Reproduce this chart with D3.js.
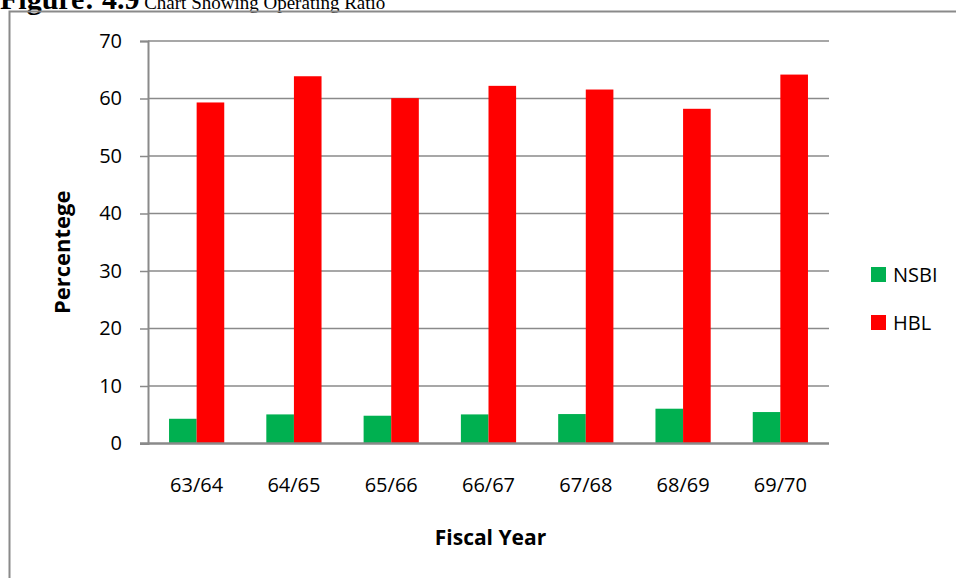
<!DOCTYPE html>
<html>
<head>
<meta charset="utf-8">
<script src="https://cdn.jsdelivr.net/npm/d3@7"></script>
<style>
  html, body { margin: 0; padding: 0; background: #fff; }
  svg { display: block; }
  text { font-family: "Open Sans", "Noto Sans", sans-serif; fill: #000; }
</style>
</head>
<body>
<svg id="chart" width="956" height="578"></svg>
<script>
// Operating ratio (%) by fiscal year
const years = ["63/64", "64/65", "65/66", "66/67", "67/68", "68/69", "69/70"];
const seriesNames = ["NSBI", "HBL"];
const nsbi = [4.3, 5.06, 4.83, 5.06, 5.12, 6.05, 5.47];
const hbl = [59.31, 63.87, 60.06, 62.2, 61.56, 58.21, 64.16];
const yTicks = [0, 10, 20, 30, 40, 50, 60, 70];
const colors = { NSBI: "#00B050", HBL: "#FF0000" };

const svg = d3.select("#chart");

// Caption above the framed chart
const caption = svg.append("text")
  .attr("x", 0).attr("y", 9)
  .style("font-family", "'Liberation Serif', 'Times New Roman', serif");
caption.append("tspan").style("font-weight", "bold").style("font-size", "30px").text("Figure: 4.9");
caption.append("tspan").style("font-size", "19px").text(" Chart Showing Operating Ratio");

// Chart frame
svg.append("rect")
  .attr("x", 9.5).attr("y", 11.5)
  .attr("width", 960).attr("height", 580)
  .attr("fill", "none").attr("stroke", "#8a8a8a").attr("stroke-width", 2);

const plot = { left: 148, right: 829, top: 41, bottom: 443.5 };

const x0 = d3.scaleBand().domain(years).range([plot.left, plot.right]);
const x1 = d3.scaleBand().domain(seriesNames).range([0, x0.bandwidth()])
  .paddingInner(0).paddingOuter(0.762);
const y = d3.scaleLinear().domain([0, 70]).range([plot.bottom, plot.top]);

// Horizontal gridlines
svg.append("g")
  .selectAll("line")
  .data(yTicks.filter(t => t > 0))
  .join("line")
  .attr("x1", plot.left).attr("x2", plot.right)
  .attr("y1", d => y(d)).attr("y2", d => y(d))
  .attr("stroke", "#8a8a8a").attr("stroke-width", 1.5);

// Bars
const rows = years.map((yr, i) => ({ year: yr, NSBI: nsbi[i], HBL: hbl[i] }));
svg.append("g")
  .selectAll("g")
  .data(rows)
  .join("g")
  .attr("transform", d => `translate(${x0(d.year)},0)`)
  .selectAll("rect")
  .data(d => seriesNames.map(k => ({ key: k, value: d[k] })))
  .join("rect")
  .attr("x", d => x1(d.key))
  .attr("width", x1.bandwidth())
  .attr("y", d => y(d.value))
  .attr("height", d => y(0) - y(d.value))
  .attr("fill", d => colors[d.key]);

// Y axis
const yAxis = svg.append("g")
  .attr("transform", `translate(${plot.left},0)`)
  .call(d3.axisLeft(y).tickValues(yTicks).tickSize(8).tickPadding(18));
yAxis.select(".domain").attr("stroke", "#8a8a8a").attr("stroke-width", 2);
yAxis.selectAll(".tick line").attr("stroke", "#8a8a8a").attr("stroke-width", 1.5);
yAxis.selectAll(".tick text")
  .style("font-size", "20px")
  .style("font-family", "'Open Sans', sans-serif");

// X axis
const xAxis = svg.append("g")
  .attr("transform", `translate(0,${plot.bottom})`)
  .call(d3.axisBottom(x0).tickSize(0).tickPadding(34));
xAxis.select(".domain").attr("stroke", "#8a8a8a").attr("stroke-width", 2.5)
  .attr("d", `M${plot.left - 8},0H${plot.right}`);
xAxis.selectAll(".tick text")
  .style("font-size", "20px")
  .style("font-family", "'Open Sans', sans-serif");

// Axis titles
svg.append("text")
  .attr("x", (plot.left + plot.right) / 2 + 2).attr("y", 545)
  .attr("text-anchor", "middle")
  .style("font-weight", "bold").style("font-size", "21px")
  .text("Fiscal Year");

svg.append("text")
  .attr("transform", `translate(70,${(plot.top + plot.bottom) / 2 + 10}) rotate(-90)`)
  .attr("text-anchor", "middle")
  .style("font-weight", "bold").style("font-size", "22px")
  .text("Percentege");

// Legend
const legend = svg.append("g")
  .selectAll("g")
  .data(seriesNames)
  .join("g")
  .attr("transform", (d, i) => `translate(871,${267 + i * 48})`);
legend.append("rect")
  .attr("width", 15).attr("height", 15)
  .attr("fill", d => colors[d]);
legend.append("text")
  .attr("x", 22).attr("y", 7.5).attr("dy", "0.36em")
  .style("font-size", "20px")
  .text(d => d);
</script>
</body>
</html>
